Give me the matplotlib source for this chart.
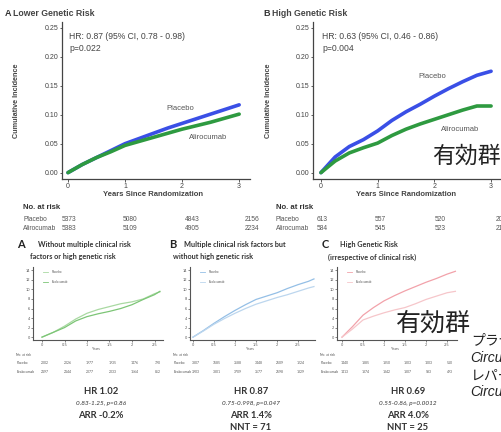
import matplotlib
matplotlib.use("Agg")
import matplotlib.pyplot as plt

W, H = 501, 432

# ---------------- data: top KM panels ----------------
top_years = [0, 0.25, 0.5, 0.75, 1.0, 1.25, 1.5, 1.75, 2.0, 2.25, 2.5, 2.75, 3.0]
lowA_placebo = [0, 0.014, 0.026, 0.038, 0.050, 0.059, 0.068, 0.077, 0.085, 0.093, 0.101, 0.109, 0.117]
lowA_aliro = [0, 0.014, 0.026, 0.036, 0.047, 0.054, 0.061, 0.068, 0.075, 0.081, 0.087, 0.094, 0.101]
highB_placebo = [0, 0.027, 0.045, 0.057, 0.072, 0.090, 0.105, 0.118, 0.132, 0.145, 0.157, 0.168, 0.175]
highB_aliro = [0, 0.020, 0.034, 0.043, 0.051, 0.064, 0.075, 0.084, 0.092, 0.100, 0.108, 0.115, 0.115]
top_xticks = [0, 1, 2, 3]
top_yticks = [0.00, 0.05, 0.10, 0.15, 0.20, 0.25]
lowA_risk_placebo = ["5373", "5080", "4843", "2156"]
lowA_risk_aliro = ["5383", "5109", "4905", "2234"]
highB_risk_placebo = ["613", "557", "520", "206"]
highB_risk_aliro = ["584", "545", "523", "215"]

# ---------------- data: bottom panels ----------------
bA_years = [0, 0.25, 0.5, 0.75, 1.0, 1.25, 1.5, 1.75, 2.0, 2.25, 2.5, 2.62]
bA_placebo = [0, 1.0, 2.3, 3.8, 5.0, 5.8, 6.4, 7.0, 7.4, 8.0, 9.1, 9.5]
bA_evo = [0, 1.0, 2.0, 3.4, 4.3, 4.9, 5.4, 6.0, 6.8, 7.9, 8.9, 9.6]
bB_years = [0, 0.25, 0.5, 0.75, 1.0, 1.25, 1.5, 1.75, 2.0, 2.25, 2.5, 2.75, 2.88]
bB_placebo = [0, 1.4, 2.9, 4.3, 5.6, 6.8, 7.9, 8.6, 9.3, 10.2, 11.0, 11.7, 12.2]
bB_evo = [0, 1.3, 2.7, 3.9, 5.0, 6.0, 6.9, 7.6, 8.3, 8.9, 9.6, 10.3, 10.6]
bC_years = [0, 0.25, 0.5, 0.75, 1.0, 1.25, 1.5, 1.75, 2.0, 2.25, 2.5, 2.7]
bC_placebo = [0, 2.2, 4.6, 6.2, 7.6, 8.7, 9.7, 10.6, 11.5, 12.3, 13.2, 13.8]
bC_evo = [0, 1.7, 3.6, 4.4, 5.1, 5.7, 6.2, 7.0, 7.9, 8.6, 9.3, 9.6]
bot_xticks = [0, 0.5, 1, 1.5, 2, 2.5]
bot_xticklabels = ["0", "0.5", "1", "1.5", "2", "2.5"]
bot_yticks = [0, 2, 4, 6, 8, 10, 12, 14]
bA_risk_placebo = ["2002", "2026", "1977", "1935", "1476", "790"]
bA_risk_evo = ["2197", "2144", "2077", "2033", "1564", "852"]
bB_risk_placebo = ["3807", "3685", "3588", "3448", "2609", "1224"]
bB_risk_evo = ["3903", "3801", "3709", "3577", "2698", "1329"]
bC_risk_placebo = ["1440", "1385", "1350", "1303", "1003", "510"]
bC_risk_evo = ["1413", "1374", "1342", "1307", "983", "493"]

fig = plt.figure(figsize=(W / 100, H / 100), dpi=100)
fig.patch.set_facecolor("white")

SANS = ["Liberation Sans", "DejaVu Sans"]
CAL = ["Lato", "DejaVu Sans"]
CJK = ["Noto Sans CJK JP", "DejaVu Sans"]


def fx(x):
    return x / W


def fy(y):
    return 1 - y / H


def px_axes(x0, y0, x1, y1):
    return fig.add_axes([fx(x0), fy(y1), (x1 - x0) / W, (y1 - y0) / H])


def ftext(x, y, s, **kw):
    fig.text(fx(x), fy(y), s, **kw)


# ================= TOP PANELS =================
def top_panel(ax_box, xlim, ylim, plac, ali, hr, pv, plab, alab):
    ax = px_axes(*ax_box)
    ax.plot(top_years, plac, color="#3a4fe6", lw=2.6, solid_capstyle="round")
    ax.plot(top_years, ali, color="#2e9a40", lw=2.6, solid_capstyle="round")
    ax.set_xlim(*xlim)
    ax.set_ylim(*ylim)
    ax.set_xticks(top_xticks)
    ax.set_yticks(top_yticks)
    ax.set_yticklabels([f"{v:.2f}" for v in top_yticks])
    for s in ["top", "right"]:
        ax.spines[s].set_visible(False)
    for s in ["left", "bottom"]:
        ax.spines[s].set_color("#444444")
        ax.spines[s].set_linewidth(0.9)
    ax.tick_params(labelsize=5.0, length=1.8, width=0.6, pad=1.0, colors="#444444")
    for lab in ax.get_xticklabels() + ax.get_yticklabels():
        lab.set_family(SANS)
    ax.text(0.02, 0.235, hr, fontsize=6.2, family=SANS, color="#444444", va="center")
    ax.text(0.02, 0.214, pv, fontsize=6.2, family=SANS, color="#444444", va="center")
    ax.text(plab[0], plab[1], "Placebo", fontsize=5.5, family=SANS, color="#555555", va="center")
    ax.text(alab[0], alab[1], "Alirocumab", fontsize=5.5, family=SANS, color="#555555", va="center")
    ax.set_facecolor("none")
    return ax


axA = top_panel((62, 22, 250, 179), (-0.105, 3.19), (-0.011, 0.26),
                lowA_placebo, lowA_aliro, "HR: 0.87 (95% CI, 0.78 - 0.98)", "p=0.022",
                (1.72, 0.111), (2.12, 0.060))
axB = top_panel((313, 22, 501, 179), (-0.14, 3.175), (-0.011, 0.26),
                highB_placebo, highB_aliro, "HR: 0.63 (95% CI, 0.46 - 0.86)", "p=0.004",
                (1.72, 0.166), (2.12, 0.074))

ftext(5, 13, "A", fontsize=6.5, weight="bold", family=SANS, color="#333333", va="center")
ftext(13, 13, "Lower Genetic Risk", fontsize=6.3, weight="bold", family=SANS, color="#444444", va="center")
ftext(263, 13, "B", fontsize=6.5, weight="bold", family=SANS, color="#333333", va="center")
ftext(272, 13, "High Genetic Risk", fontsize=6.3, weight="bold", family=SANS, color="#444444", va="center")

ftext(17, 101, "Cumulative Incidence", fontsize=5.2, weight="bold", family=SANS, color="#444444",
      rotation=90, ha="center", va="center")
ftext(268, 101, "Cumulative Incidence", fontsize=5.2, weight="bold", family=SANS, color="#444444",
      rotation=90, ha="center", va="center")
ftext(153, 194.5, "Years Since Randomization", fontsize=5.5, weight="bold", family=SANS, color="#444444",
      ha="center", va="center")
ftext(406, 194.5, "Years Since Randomization", fontsize=5.5, weight="bold", family=SANS, color="#444444",
      ha="center", va="center")

ftext(23, 208, "No. at risk", fontsize=5.6, weight="bold", family=SANS, color="#333333", va="center")
ftext(276, 208, "No. at risk", fontsize=5.6, weight="bold", family=SANS, color="#333333", va="center")
for (x0, cols, rp, ra) in [(23, [62, 123, 185, 245], lowA_risk_placebo, lowA_risk_aliro),
                           (276, [317, 375, 435, 496], highB_risk_placebo, highB_risk_aliro)]:
    ftext(x0, 219.5, "Placebo", fontsize=4.8, family=SANS, color="#555555", va="center")
    ftext(x0, 228.5, "Alirocumab", fontsize=4.8, family=SANS, color="#555555", va="center")
    for cx, a, b in zip(cols, rp, ra):
        ftext(cx, 219.5, a, fontsize=4.8, family=SANS, color="#555555", va="center")
        ftext(cx, 228.5, b, fontsize=4.8, family=SANS, color="#555555", va="center")


# ================= BOTTOM PANELS =================
def bottom_panel(ax_box, x0px, x_per, years, plac, evo, c_plac, c_evo, rp, re):
    xa0, ya0, xa1, ya1 = ax_box
    ax = px_axes(*ax_box)
    ax.plot(years, plac, color=c_plac, lw=0.9)
    ax.plot(years, evo, color=c_evo, lw=0.9)
    ax.set_xlim((xa0 - x0px) / x_per, (xa1 - x0px) / x_per)
    ax.set_ylim(-0.6, 14.7)
    ax.set_xticks(bot_xticks)
    ax.set_xticklabels(bot_xticklabels)
    ax.set_yticks(bot_yticks)
    for s in ["top", "right"]:
        ax.spines[s].set_visible(False)
    for s in ["left", "bottom"]:
        ax.spines[s].set_color("#555555")
        ax.spines[s].set_linewidth(0.8)
    ax.tick_params(labelsize=2.6, length=1.5, width=0.5, pad=0.8, colors="#555555")
    ax.set_facecolor("none")
    # legend
    lx = (xa0 + 10 - x0px) / x_per
    lx2 = (xa0 + 15 - x0px) / x_per
    ax.plot([lx, lx2], [13.6, 13.6], color=c_plac, lw=0.6)
    ax.plot([lx, lx2], [11.5, 11.5], color=c_evo, lw=0.6)
    ax.text((xa0 + 19 - x0px) / x_per, 13.6, "Placebo", fontsize=2.2, family=CAL, color="#555555", va="center")
    ax.text((xa0 + 19 - x0px) / x_per, 11.5, "Evolocumab", fontsize=2.2, family=CAL, color="#555555", va="center")
    # x label
    ftext((xa0 + xa1) / 2 - 2, ya1 + 9.5, "Years", fontsize=2.6, family=CAL, color="#555555", ha="center", va="center")
    ftext(xa0 - 17, ya1 + 14.5, "No. at risk", fontsize=2.4, family=CAL, color="#555555", va="center")
    ftext(xa0 - 16, ya1 + 23, "Placebo", fontsize=2.4, family=CAL, color="#555555", va="center")
    ftext(xa0 - 16, ya1 + 32, "Evolocumab", fontsize=2.4, family=CAL, color="#555555", va="center")
    for t, a, b in zip(bot_xticks, rp, re):
        cx = x0px + t * x_per + 3
        ftext(cx, ya1 + 23, a, fontsize=2.4, family=CAL, color="#555555", ha="center", va="center")
        ftext(cx, ya1 + 32, b, fontsize=2.4, family=CAL, color="#555555", ha="center", va="center")
    return ax


bottom_panel((33, 267, 163, 340), 42, 45, bA_years, bA_placebo, bA_evo, "#a9d9a2", "#7cc576",
             bA_risk_placebo, bA_risk_evo)
bottom_panel((190, 267, 315, 340), 193, 42, bB_years, bB_placebo, bB_evo, "#94bfe6", "#bcd6ee",
             bB_risk_placebo, bB_risk_evo)
bottom_panel((337, 267, 457, 340), 342, 42, bC_years, bC_placebo, bC_evo, "#f2a2aa", "#f6c6ca",
             bC_risk_placebo, bC_risk_evo)

# bottom titles
TFS = 5.2
ftext(17, 245, "A", fontsize=8, weight="bold", family=CAL, color="#222222", va="center")
ftext(84, 245, "Without multiple clinical risk", fontsize=TFS, weight="bold", family=CAL, color="#333333",
      ha="center", va="center")
ftext(73, 257, "factors or high genetic risk", fontsize=TFS, weight="bold", family=CAL, color="#333333",
      ha="center", va="center")
ftext(169, 245, "B", fontsize=8, weight="bold", family=CAL, color="#222222", va="center")
ftext(235, 245, "Multiple clinical risk factors but", fontsize=TFS, weight="bold", family=CAL, color="#333333",
      ha="center", va="center")
ftext(213, 257, "without high genetic risk", fontsize=TFS, weight="bold", family=CAL, color="#333333",
      ha="center", va="center")
ftext(322, 245, "C", fontsize=8, weight="bold", family=CAL, color="#222222", va="center")
ftext(369, 245, "High Genetic Risk", fontsize=TFS, weight="bold", family=CAL, color="#333333",
      ha="center", va="center")
ftext(372, 257, "(irrespective of clinical risk)", fontsize=TFS, weight="bold", family=CAL, color="#333333",
      ha="center", va="center")

# HR summaries
summ = [
    (101, "HR 1.02", "0.83-1.25, p=0.86", "ARR -0.2%", None),
    (251, "HR 0.87", "0.75-0.998, p=0.047", "ARR 1.4%", "NNT = 71"),
    (408, "HR 0.69", "0.55-0.86, p=0.0012", "ARR 4.0%", "NNT = 25"),
]
for cx, hr, ci, arr, nnt in summ:
    ftext(cx, 391, hr, fontsize=6.8, weight="bold", family=CAL, color="#333333", ha="center", va="center")
    ftext(cx, 403, ci, fontsize=4.6, style="italic", family=CAL, color="#333333", ha="center", va="center")
    ftext(cx, 415, arr, fontsize=6.8, weight="bold", family=CAL, color="#333333", ha="center", va="center")
    if nnt:
        ftext(cx, 427, nnt, fontsize=6.8, weight="bold", family=CAL, color="#333333", ha="center", va="center")

# overlay annotations
ftext(432, 156, "有効群", fontsize=16.5, family=CJK, color="#222222", va="center")
ftext(396, 324, "有効群", fontsize=18, family=CJK, color="#222222", va="center")
ftext(471, 341, "プラセボ", fontsize=10, family=CJK, color="#222222", va="center")
ftext(470, 358, "Circulation", fontsize=10, style="italic", family=SANS, color="#222222", va="center")
ftext(471, 375, "レパーサ", fontsize=10, family=CJK, color="#222222", va="center")
ftext(470, 392, "Circulation", fontsize=10, style="italic", family=SANS, color="#222222", va="center")

fig.savefig("out.png", dpi=100, facecolor="white")
